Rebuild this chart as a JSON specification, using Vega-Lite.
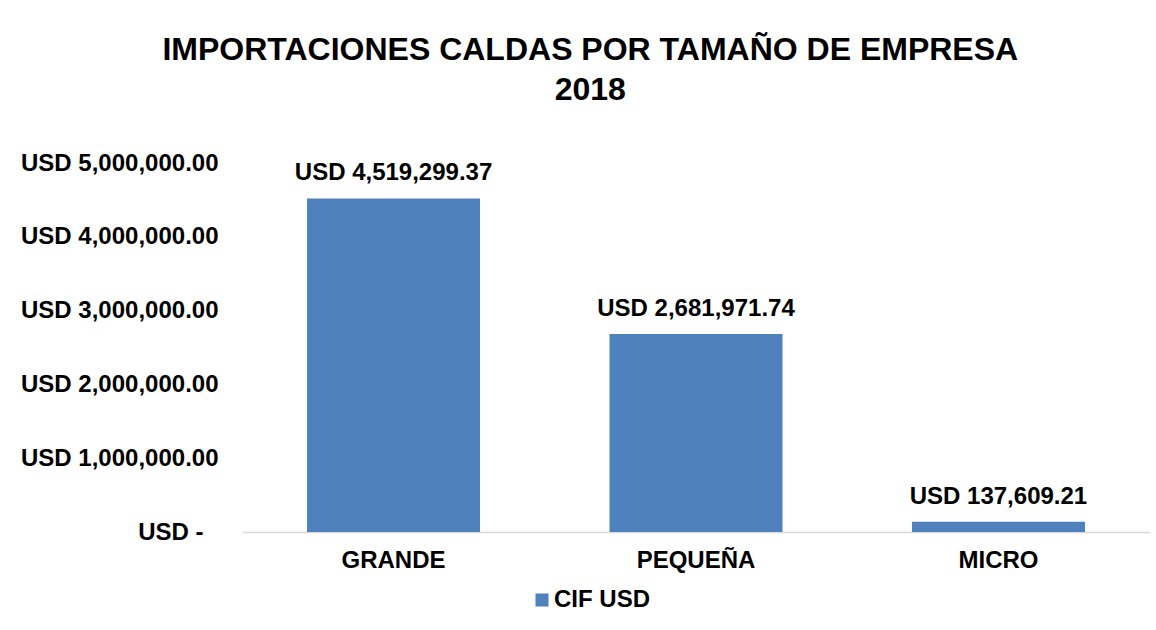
{
  "$schema": "https://vega.github.io/schema/vega-lite/v6.json",
  "autosize": {"type": "none"},
  "width": 908,
  "height": 369,
  "padding": {"left": 242, "top": 163, "right": 6, "bottom": 98},
  "background": "white",
  "title": {
    "text": ["IMPORTACIONES CALDAS POR TAMAÑO DE EMPRESA", "2018"],
    "font": "Liberation Sans",
    "fontSize": 32,
    "fontWeight": "bold",
    "color": "#000000",
    "anchor": "middle",
    "frame": "bounds",
    "lineHeight": 40,
    "offset": 44,
    "dx": 5
  },
  "data": {
    "values": [
      {"empresa": "GRANDE", "cif": 4519299.37, "serie": "CIF USD"},
      {"empresa": "PEQUEÑA", "cif": 2681971.74, "serie": "CIF USD"},
      {"empresa": "MICRO", "cif": 137609.21, "serie": "CIF USD"}
    ]
  },
  "transform": [
    {"calculate": "'USD ' + format(datum.cif, ',.2f')", "as": "etiqueta"}
  ],
  "encoding": {
    "x": {
      "field": "empresa",
      "type": "nominal",
      "sort": null,
      "scale": {"paddingInner": 0.428, "paddingOuter": 0.215},
      "axis": {
        "title": null,
        "labelAngle": 0,
        "labelFont": "Liberation Sans",
        "labelFontSize": 24,
        "labelFontWeight": "bold",
        "labelColor": "#000000",
        "labelPadding": 16,
        "ticks": false,
        "domainColor": "#D9D9D9",
        "domainWidth": 1.5,
        "grid": false
      }
    }
  },
  "layer": [
    {
      "mark": {"type": "bar", "color": "#4F81BD"},
      "encoding": {
        "y": {
          "field": "cif",
          "type": "quantitative",
          "scale": {"domain": [0, 5000000], "nice": false},
          "axis": {
            "title": null,
            "values": [0, 1000000, 2000000, 3000000, 4000000, 5000000],
            "labelExpr": "datum.value == 0 ? 'USD -' : 'USD ' + format(datum.value, ',.2f')",
            "labelFont": "Liberation Sans",
            "labelFontSize": 24,
            "labelFontWeight": "bold",
            "labelColor": "#000000",
            "labelLimit": 0,
            "labelPadding": {"condition": {"test": "datum.value == 0", "value": 39}, "value": 24},
            "ticks": false,
            "domain": false,
            "grid": false
          }
        },
        "color": {
          "field": "serie",
          "type": "nominal",
          "scale": {"range": ["#4F81BD"]},
          "legend": {
            "title": null,
            "orient": "none",
            "legendX": 288,
            "legendY": 425,
            "direction": "horizontal",
            "symbolType": "square",
            "symbolSize": 169,
            "symbolStrokeWidth": 0,
            "labelFont": "Liberation Sans",
            "labelFontSize": 24,
            "labelFontWeight": "bold",
            "labelColor": "#000000",
            "labelOffset": 0,
            "padding": 0
          }
        }
      }
    },
    {
      "mark": {
        "type": "text",
        "baseline": "bottom",
        "dy": -13,
        "font": "Liberation Sans",
        "fontSize": 24,
        "fontWeight": "bold",
        "color": "#000000"
      },
      "encoding": {
        "y": {"field": "cif", "type": "quantitative"},
        "text": {"field": "etiqueta"}
      }
    }
  ],
  "config": {
    "view": {"stroke": null}
  }
}
